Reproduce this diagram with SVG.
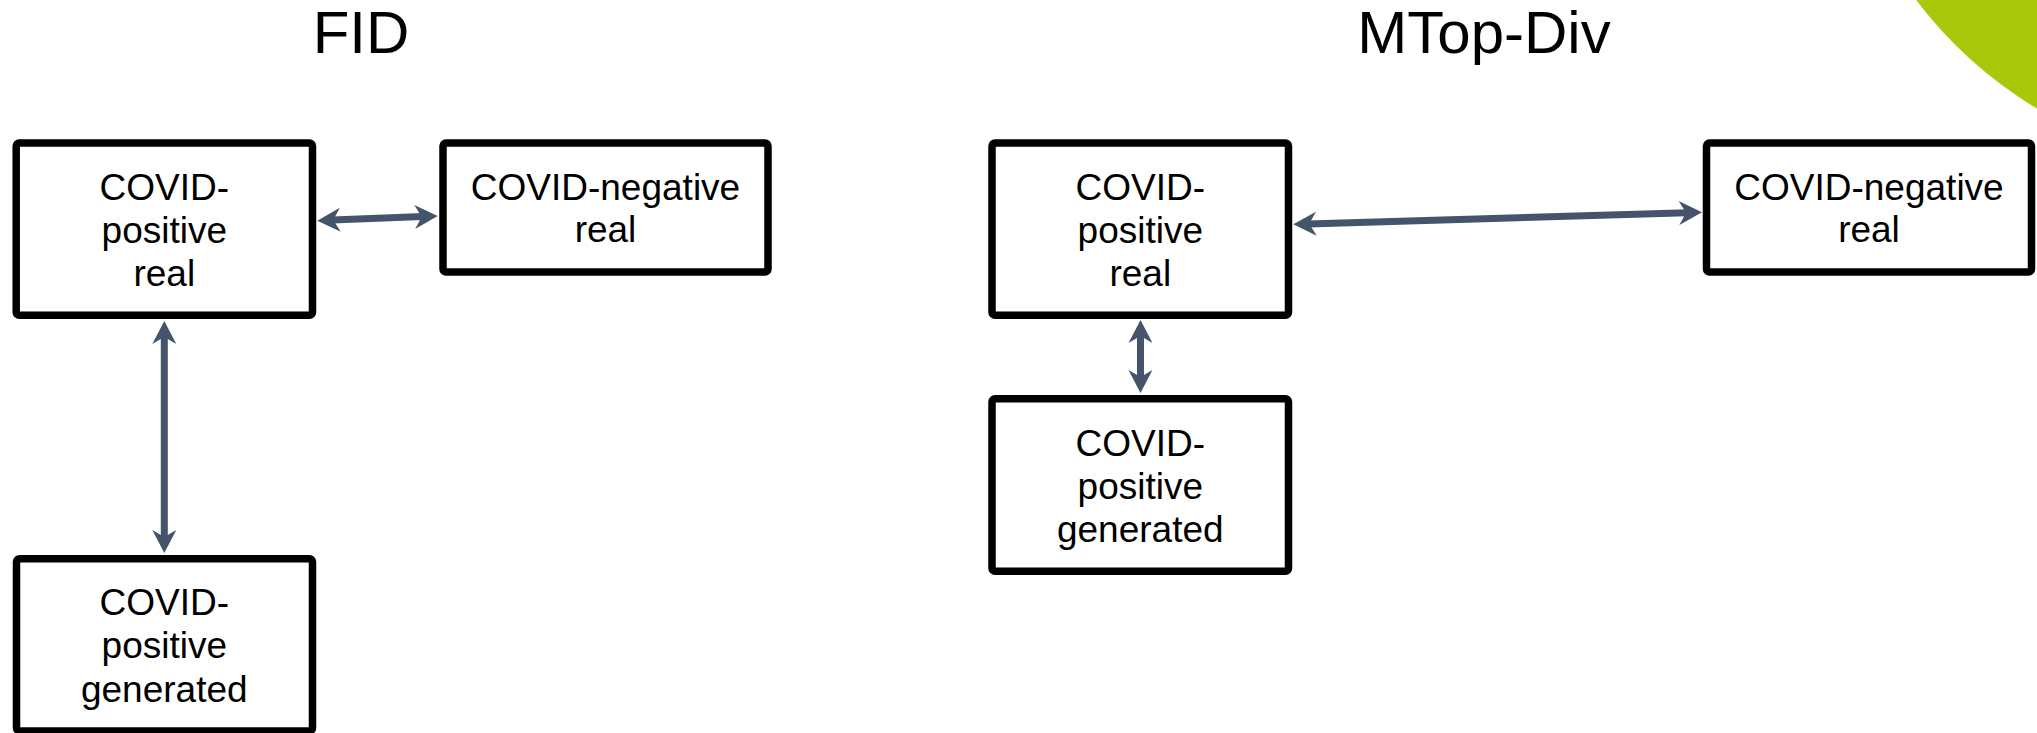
<svg xmlns="http://www.w3.org/2000/svg" width="2037" height="733" viewBox="0 0 2037 733">
<style>
.box{fill:#fff;stroke:#000;stroke-width:7.5}
.t{font-family:"Liberation Sans",Arial,sans-serif;font-size:37px;fill:#000;text-anchor:middle}
.title{font-family:"Liberation Sans",Arial,sans-serif;font-size:60px;fill:#000;text-anchor:middle}
.conn{stroke:#44546A;stroke-width:7;fill:none;marker-start:url(#ah);marker-end:url(#ah)}
</style>
<defs>
<marker id="ah" viewBox="-40 -13 42 26" refX="-15" refY="0" markerWidth="42" markerHeight="26" markerUnits="userSpaceOnUse" orient="auto-start-reverse">
<path d="M0,0 L-23,-12 L-16,0 L-23,12 Z" fill="#44546A"/>
</marker>
</defs>
<rect width="2037" height="733" fill="#fff"/>
<circle cx="2250" cy="-250" r="417" fill="#AAC80A"/>
<text class="title" x="361" y="53">FID</text>
<text class="title" x="1484" y="53">MTop-Div</text>
<g id="connectors">
<line class="conn" x1="332.3" y1="220.1" x2="422.7" y2="216.6"/>
<line class="conn" x1="164.3" y1="336" x2="164.3" y2="538"/>
<line class="conn" x1="1308.3" y1="223.9" x2="1687" y2="212.7"/>
<line class="conn" x1="1140.5" y1="335" x2="1140.5" y2="378"/>
</g>
<g id="fid-pos-real">
<rect class="box" x="16.2" y="143" width="296.3" height="172.3" rx="3"/>
<text class="t" x="164.3" y="200">COVID-</text>
<text class="t" x="164.3" y="243">positive</text>
<text class="t" x="164.3" y="286">real</text>
</g>
<g id="fid-neg-real">
<rect class="box" x="443" y="143" width="325" height="129" rx="3"/>
<text class="t" x="605.5" y="200">COVID-negative</text>
<text class="t" x="605.5" y="242">real</text>
</g>
<g id="fid-pos-gen">
<rect class="box" x="16.5" y="558.7" width="296" height="172.3" rx="3"/>
<text class="t" x="164.3" y="615">COVID-</text>
<text class="t" x="164.3" y="658">positive</text>
<text class="t" x="164.3" y="702">generated</text>
</g>
<g id="mtop-pos-real">
<rect class="box" x="992" y="143" width="296.5" height="172.3" rx="3"/>
<text class="t" x="1140.3" y="200">COVID-</text>
<text class="t" x="1140.3" y="243">positive</text>
<text class="t" x="1140.3" y="286">real</text>
</g>
<g id="mtop-neg-real">
<rect class="box" x="1706.5" y="143" width="325" height="129" rx="3"/>
<text class="t" x="1869" y="200">COVID-negative</text>
<text class="t" x="1869" y="242">real</text>
</g>
<g id="mtop-pos-gen">
<rect class="box" x="992" y="398.7" width="296.5" height="172.5" rx="3"/>
<text class="t" x="1140.3" y="456">COVID-</text>
<text class="t" x="1140.3" y="499">positive</text>
<text class="t" x="1140.3" y="542">generated</text>
</g>
</svg>
